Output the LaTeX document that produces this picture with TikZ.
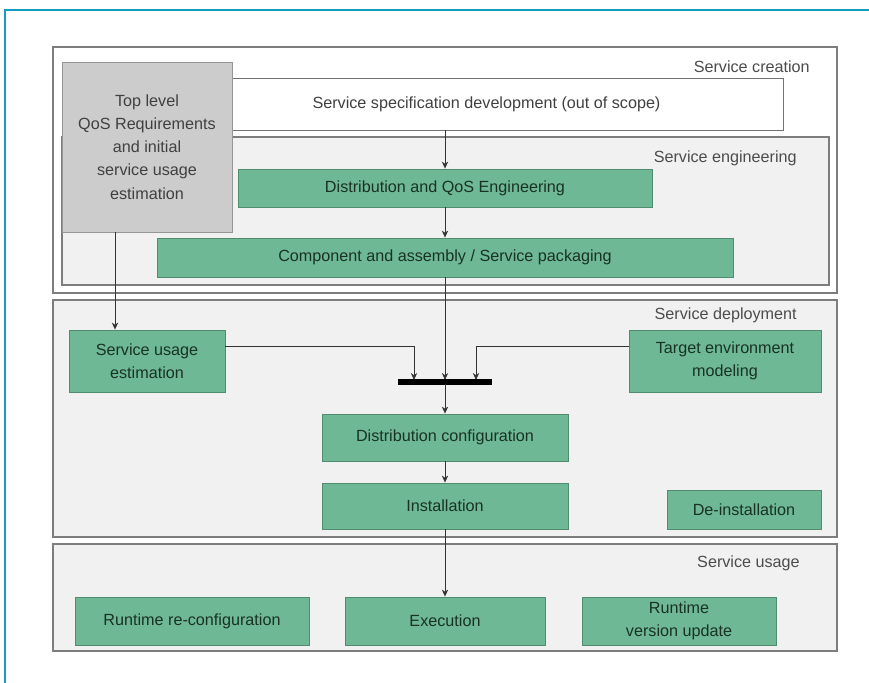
\documentclass[tikz,border=0pt]{standalone}
\usepackage{fontspec}
\setmainfont{Liberation Sans}
\usetikzlibrary{
	arrows.meta,
	calc
}
\definecolor{framecol}{RGB}{20,155,195}
\definecolor{boxgreen}{RGB}{110,184,150}
\definecolor{boxedge}{RGB}{80,140,112}
\definecolor{boxtext}{RGB}{25,50,35}
\definecolor{panelfill}{RGB}{241,241,241}
\definecolor{paneledge}{RGB}{125,125,125}
\definecolor{topfill}{RGB}{204,204,204}
\definecolor{topedge}{RGB}{150,150,150}

\begin{document}
\begin{tikzpicture}[
    x=0.025cm, y=-0.025cm,
    panel/.style 2 args = { draw=paneledge,line width=0.8pt,minimum width=#1*0.025cm,minimum height=#2*0.025cm,inner sep=0pt },
    box/.style 2 args = { draw=boxedge,fill=boxgreen,line width=0.6pt,minimum width=#1*0.025cm,minimum height=#2*0.025cm,inner sep=0pt,align=center,text=boxtext,font=\fontsize{11.5}{16.5}\selectfont },
    tag/.style = { anchor=east,inner sep=0pt,text=black!70,font=\fontsize{11.5}{14}\selectfont },
    arrowstyle/.style = { ->,>={Stealth[length=5pt,width=4.5pt]},line width=0.5pt,draw=black!80 },
    barstyle/.style = { line width=3.6pt,draw=black },
    frameline/.style = { draw=framecol,line width=1.8pt }
    ]
    \useasboundingbox (0,0) rectangle (869,683);
    % Definitions
    \coordinate (cre)  at (445,170);
    \coordinate (eng)  at (445.5,211);
    \coordinate (dep)  at (445,418.5);
    \coordinate (use)  at (445,597.5);
    \coordinate (ssd)  at (486.5,104);
    \coordinate (tlq)  at (147,147);
    \coordinate (dqe)  at (445,188);
    \coordinate (cas)  at (445,257.5);
    \coordinate (sue)  at (147,361);
    \coordinate (tem)  at (725,361);
    \coordinate (dcf)  at (445,437.5);
    \coordinate (ins)  at (445,506);
    \coordinate (dei)  at (744,509.5);
    \coordinate (rrc)  at (192,621);
    \coordinate (exe)  at (445,621);
    \coordinate (rvu)  at (679,621);
    \coordinate (bL)   at (398,382);
    \coordinate (bR)   at (492,382);
    \coordinate (b1)   at (414,380);
    \coordinate (b2)   at (445,380);
    \coordinate (b3)   at (476,380);
    \coordinate (b0)   at (445,384);
    \coordinate (jy)   at (0,346);
    \coordinate (qx)   at (115,0);
    \coordinate (fbl)  at (5,683);
    \coordinate (ftr)  at (869,10);
    % Panels
    \node(PC) at (cre) [panel={784}{246},fill=white]     {};
    \node(SS) at (ssd) [box={593}{52},fill=white,draw=black!55,text=black!75]
        {Service specification development (out of scope)};
    \node(PE) at (eng) [panel={767}{148},fill=panelfill] {};
    \node(PD) at (dep) [panel={784}{237},fill=panelfill] {};
    \node(PU) at (use) [panel={784}{107},fill=panelfill] {};
    \node(LC) at (810,67)  [tag] {Service creation};
    \node(LE) at (797,158) [tag] {Service engineering};
    \node(LD) at (797,315) [tag] {Service deployment};
    \node(LU) at (800,563) [tag] {Service usage};
    % Nodes
    \node(TL) at (tlq) [box={170}{170},fill=topfill,draw=topedge,text=black!75]
        {Top level\\QoS Requirements\\and initial\\service usage\\estimation};
    \node(DQ) at (dqe) [box={414}{38}]  {Distribution and QoS Engineering};
    \node(CA) at (cas) [box={576}{39}]  {Component and assembly / Service packaging};
    \node(SU) at (sue) [box={156}{62}]  {Service usage\\estimation};
    \node(TE) at (tem) [box={192}{62}]  {Target environment\\modeling};
    \node(DC) at (dcf) [box={246}{47}]  {Distribution configuration};
    \node(IN) at (ins) [box={246}{46}]  {Installation};
    \node(DI) at (dei) [box={154}{39}]  {De-installation};
    \node(RR) at (rrc) [box={234}{48}]  {Runtime re-configuration};
    \node(EX) at (exe) [box={200}{48}]  {Execution};
    \node(RV) at (rvu) [box={194}{48}]  {Runtime\\version update};
    % Arrows
    \draw[arrowstyle] (DQ.north |- SS.south) -- (DQ.north);
    \draw[arrowstyle] (DQ)                   -- (CA);
    \draw[arrowstyle] (CA.south)             -- (b2);
    \draw[arrowstyle] (TL.south -| qx)       -- (SU.north -| qx);
    \draw[arrowstyle] (SU.east |- jy)        -| (b1);
    \draw[arrowstyle] (TE.west |- jy)        -| (b3);
    \draw[barstyle]   (bL)                   -- (bR);
    \draw[arrowstyle] (b0)                   -- (DC);
    \draw[arrowstyle] (DC)                   -- (IN);
    \draw[arrowstyle] (IN)                   -- (EX);
    \draw[frameline]  (fbl)                  |- (ftr);
\end{tikzpicture}
\end{document}
